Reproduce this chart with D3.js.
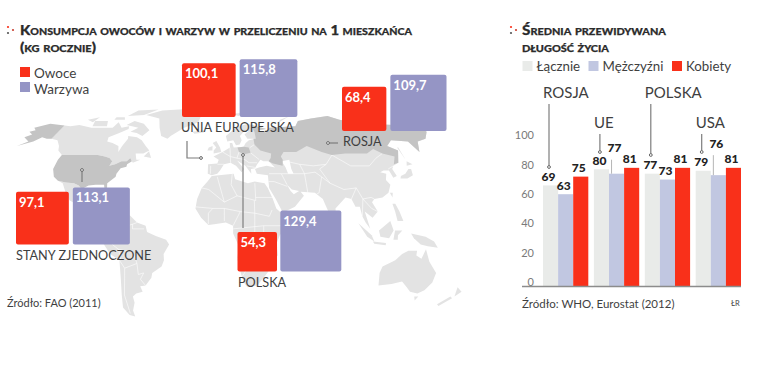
<!DOCTYPE html>
<html>
<head>
<meta charset="utf-8">
<script src="https://cdn.jsdelivr.net/npm/d3@7"></script>
<style>
  body { margin: 0; background: #fff; }
  text { font-family: Lato, sans-serif; }
  .title { font-weight: 900; font-variant: small-caps; font-size: 14px; fill: #2b2b2b; stroke: #2b2b2b; stroke-width: 0.25px; }
  .thin { fill: #3f3f3f; }
</style>
</head>
<body>
<div id="chart-area"></div>
<script>
// DATA
// ****

const regions = ["UNIA EUROPEJSKA", "ROSJA", "STANY ZJEDNOCZONE", "POLSKA"]
const owoce = [100.1, 68.4, 97.1, 54.3]
const warzywa = [115.8, 109.7, 113.1, 129.4]

const countries = ["ROSJA", "UE", "POLSKA", "USA"]
const lacznie = [69, 80, 77, 79]
const mezczyzni = [63, 77, 73, 76]
const kobiety = [75, 81, 81, 81]
const lifeTicks = [0, 20, 40, 60, 80, 100]

// MAP OUTLINES (lon, lat)
// ***********************

const land = [
  // Canada
  [[-141,69.6],[-135,69],[-128,70],[-115,68],[-108,68],[-96,68],[-94,72],[-88,68],[-82,69],[-81,67],[-87,64],[-94,61],[-93,58],[-88,57],[-82,55],[-80,51],[-79,55],[-77,60],[-78,62],[-70,61],[-65,59],[-60,55],[-56,52],[-60,50],[-66,50],[-65,48],[-64,46],[-61,46],[-66,44],[-67,45],[-69,47],[-71,45],[-75,45],[-79,43],[-83,42],[-82,45],[-85,47],[-89,48],[-95,49],[-123,49],[-128,52],[-130,55],[-135,59],[-141,60]],
  // Mexico, Central America
  [[-117,32.5],[-111,31.5],[-105,31],[-101,29.5],[-97,26],[-98,21],[-95,18],[-91,18.5],[-90,21],[-87,21],[-88,16],[-83,15],[-83,10],[-80,9],[-77,8],[-80,7],[-85,10],[-92,14.5],[-96,16],[-105,20],[-109,25],[-113,31]],
  [[-85,22],[-80,23],[-74,20],[-78,20]],
  [[-74,19.5],[-69,19.5],[-69,18],[-74,18]],
  // Greenland, arctic islands
  [[-73,78],[-60,82],[-35,83.5],[-18,80],[-20,72],[-32,68],[-42,62],[-44,60],[-50,62],[-54,68],[-58,75]],
  [[-80,73],[-70,71],[-62,66],[-66,62],[-72,64],[-78,65],[-73,68],[-85,70]],
  [[-117,73],[-105,73],[-102,69],[-115,69]],
  [[-125,74],[-116,76],[-118,72]],
  [[-90,77],[-85,82],[-65,83],[-75,78]],
  [[-100,76],[-92,76],[-90,74],[-100,74]],
  [[-59,48],[-56,51.5],[-53,47]],
  // South America
  [[-77,8],[-72,12],[-68,11],[-62,10.5],[-57,6],[-51,4],[-50,0],[-44,-2.5],[-37,-5],[-35,-8],[-39,-14],[-39,-18],[-41,-22],[-48,-26],[-49,-29],[-54,-34],[-58,-34.5],[-57,-38],[-62,-39],[-65,-41],[-65,-45],[-68,-50],[-68,-54],[-72,-53],[-75,-48],[-73,-40],[-71,-30],[-70,-18],[-76,-14],[-81,-6],[-80,-2],[-78,2],[-77,7]],
  // Africa
  [[-6,35.5],[10,37],[11,33.5],[20,31],[25,32],[32,31],[34,28],[37,21],[39,15],[43,11.5],[51,12],[48,5],[41,-2],[39,-7],[40,-15],[35,-20],[35,-24],[32,-28],[27,-34],[20,-35],[18,-33],[15,-27],[12,-17],[13,-9],[9,-1],[9,4],[4,6],[-4,5],[-8,4.5],[-13,9],[-17,15],[-16,21],[-13,28],[-9,32]],
  [[49,-12],[50,-16],[47,-25],[44,-24],[44,-17]],
  // Eurasia
  [[-9,37],[-9,43],[-2,43.5],[-1,46],[-5,48],[2,51],[8,54],[8,57],[10,57],[11,54],[19,54.5],[21,57],[24,59],[30,60],[23,60],[21,63],[25,65.5],[22,66],[17,62],[18,59],[16,56],[13,55.5],[11,59],[6,58],[5,62],[14,68],[25,71],[41,67],[33,66],[40,64.5],[44,68],[68,69],[73,73],[87,75],[105,77],[113,74],[130,71],[160,70],[180,69],[180,65],[172,60],[163,58],[157,51],[155,58],[142,59],[135,55],[141,52],[135,44],[130,42],[128,40],[129,35.5],[126,34.5],[125,39],[121,39],[118,38],[122,37],[120,33],[122,30],[119,25],[114,22],[108,21],[106,19],[109,13],[105,9],[100,13],[103,2],[100,6],[98,10],[97,16],[94,16],[92,21],[88,22],[80,15],[80,10],[77,8],[73,18],[72,21],[67,25],[57,25.5],[59,23],[52,16],[45,13],[43,13],[39,21],[35,28],[35,36],[27,37],[26,40],[29,41],[35,42],[41,41],[37,45],[33,45],[31,46],[28,43],[26,40.5],[23,40],[23,37],[19,42],[13,45.5],[18,40],[16,38],[12,42],[8,44],[3,43],[0,39],[-2,37],[-6,36]],
  // Islands
  [[-5,50],[1,51],[0,54],[-3,58.5],[-6,57],[-3,54],[-5,52]],
  [[-10,52],[-6,52],[-6,55],[-9,54]],
  [[-24,65],[-14,66],[-14,64.5],[-22,63.5]],
  [[52,71],[68,77],[57,74]],
  [[12,79],[25,80],[18,77]],
  [[80,9.5],[82,7],[80,6]],
  [[131,34],[136,34],[141,36],[142,40],[140,40],[136,37],[132,35.5]],
  [[140,42],[142,45],[145,43]],
  [[142,46],[143,54],[142,54]],
  [[120,25],[122,25],[121,22]],
  [[120,18],[122,18],[124,13],[126,7],[122,7],[121,13]],
  [[109,1],[117,7],[119,1],[116,-4],[110,-3]],
  [[95,5.5],[104,-2],[106,-6],[101,-3]],
  [[105,-6],[114,-7],[114,-8.5],[106,-7.5]],
  [[120,1],[125,1],[122,-2],[122,-5],[119,-5]],
  [[131,-1],[141,-3],[147,-6],[150,-10],[143,-9],[138,-8],[133,-4]],
  [[114,-22],[122,-18],[126,-14],[130,-12],[136,-12],[136,-15],[140,-17],[142,-11],[146,-19],[153,-26],[153,-32],[150,-37],[146,-39],[140,-38],[136,-35],[131,-31.5],[124,-33],[115,-34],[113,-26]],
  [[145,-41],[148,-41],[147,-43.5]],
  [[173,-35],[178,-38],[175,-41]],
  [[172,-41],[174,-42],[168,-47],[166,-46]]
]

const highlighted = [
  // Alaska
  [[-141,69.6],[-156,71],[-166,68],[-162,66],[-166,65],[-161,63],[-165,61],[-158,58],[-164,55],[-154,58],[-150,61],[-145,60],[-141,60]],
  // USA
  [[-123,49],[-95,49],[-89,48],[-85,47],[-82,45],[-83,42],[-79,43],[-75,45],[-71,45],[-69,47],[-67,45],[-70,43],[-70,41.5],[-74,40.5],[-76,37],[-76,35],[-81,31],[-80,25.5],[-82,27],[-83,30],[-89,30],[-94,29.5],[-97,28],[-97,26],[-101,29.5],[-105,31],[-111,31.5],[-117,32.5],[-121,35],[-124,40],[-124,46]],
  // Russia
  [[28,70],[41,67],[33,66],[40,64.5],[44,68],[68,69],[73,73],[87,75],[105,77],[113,74],[130,71],[160,70],[180,69],[180,65],[172,60],[163,58],[157,51],[155,58],[142,59],[135,55],[141,52],[135,44],[131,43],[135,48],[127,50],[122,53],[115,50],[105,50],[98,50],[87,49],[80,51],[70,55],[60,51],[50,51],[47,48],[48,46],[47,42],[40,43.5],[37,45],[39,47],[40,50],[32,52],[28,56],[28,60],[30,60],[30,65]],
  // Poland
  [[14,54],[19,54.5],[23,54],[24,50.5],[19,49.5],[15,51]]
]

const seas = [
  [[47,45],[53,46],[53,40],[54,37],[50,37],[49,41]],
  [[48,30],[51,27],[56,26],[52,24],[50,26]]
]

const borders = [
  // Africa
  [[-13,28],[-8,27],[3,19],[12,23],[25,20],[25,31]],[[25,22],[37,22]],[[-17,16],[-5,15],[3,15],[14,13],[24,12],[24,20]],
  [[14,13],[9,4]],[[24,12],[34,10],[36,14]],[[9,2],[30,4],[42,4]],[[12,-5],[30,-8],[40,-11]],[[12,-17],[24,-18],[35,-17]],
  [[16,-28],[20,-22],[32,-22]],[[30,4],[30,-8]],[[24,12],[24,-11]],[[9,37],[8,30],[12,23]],[[3,19],[-2,35]],[[-8,5],[-8,12],[-5,15]],[[3,7],[3,15]],
  // Asia
  [[36,37],[45,37],[48,30]],[[45,37],[62,37],[62,25]],[[35,32],[39,32],[48,29]],[[62,37],[70,38],[74,35],[70,25],[68,24]],
  [[74,35],[79,31],[88,27],[97,28],[92,21]],[[97,28],[100,21],[106,22],[108,21]],[[100,21],[98,10]],[[100,21],[105,15],[109,13]],
  [[79,31],[74,40],[80,43],[87,49]],[[87,49],[98,42],[112,42],[120,47],[127,50]],[[50,45],[60,43],[70,42],[80,43]],[[60,43],[62,37]],[[125,40],[130,42]],
  // Europe
  [[-2,43],[3,43]],[[2,51],[8,48],[8,44]],[[8,54],[8,48],[13,47]],[[15,51],[13,47]],[[13,47],[19,46],[22,44],[28,44]],[[24,50.5],[30,46]],[[28,56],[24,54]],[[20,42],[26,41]],[[-7,42],[-7,37]],
  // South America
  [[-72,12],[-70,2],[-70,-4],[-74,-8],[-70,-11],[-60,-13],[-58,-20],[-58,-27],[-54,-26],[-57,-30],[-54,-34]],[[-70,2],[-60,5],[-57,6]],[[-60,5],[-60,2],[-52,2]],
  [[-78,-1],[-70,-4]],[[-70,-18],[-67,-23],[-71,-40],[-71,-52]],[[-70,-11],[-69,-18]],[[-67,-23],[-58,-20]]
]

// COLOURS
// *******

const red = "#f9301a"
const purple = "#9595c5"
const landLight = "#e3e3e3"
const landDark = "#c4c4c4"
const leader = "#7d7d7d"

// SVG
// ***

const svg = d3.select("#chart-area")
  .append("svg")
    .attr("width", 763)
    .attr("height", 377)
    .style("display", "block")

function title(x, lines, lens) {
  lines.forEach((t, i) => {
    svg.append("text")
      .attr("class", "title")
      .attr("x", x)
      .attr("y", 34.5 + i * 17)
      .attr("textLength", lens[i])
      .attr("lengthAdjust", "spacingAndGlyphs")
      .text(t)
  })
}

function ornament(x) {
  [[0, 0, red], [5, 3, "#c9402f"], [0, 6, "#555"]].forEach(d => {
    svg.append("circle")
      .attr("cx", x + d[0]).attr("cy", 27 + d[1]).attr("r", 1.1).attr("fill", d[2])
  })
}

function label(x, y, txt, size, anchor) {
  return svg.append("text")
    .attr("class", "thin")
    .attr("x", x)
    .attr("y", y)
    .attr("font-size", size + "px")
    .attr("text-anchor", anchor || "start")
    .text(txt)
}

function pin(path, end) {
  svg.append("path").attr("d", d3.line()(path)).attr("fill", "none").attr("stroke", leader).attr("stroke-width", 1.2)
  svg.append("circle")
    .attr("cx", end[0]).attr("cy", end[1]).attr("r", 1.4)
    .attr("fill", "#fff").attr("stroke", "#666").attr("stroke-width", 1)
}

// MAP
// ***

const projection = d3.geoNaturalEarth1().scale(96).translate([0, 0])
const outline = d3.line()
  .x(d => projection(d)[0])
  .y(d => projection(d)[1])
  .curve(d3.curveLinearClosed)
const open = d3.line()
  .x(d => projection(d)[0])
  .y(d => projection(d)[1])

const map = svg.append("g").attr("transform", "translate(220, 232) scale(1, 0.93)")

map.selectAll(".land").data(land).enter().append("path")
  .attr("d", outline).attr("fill", landLight)
map.selectAll(".border").data(borders).enter().append("path")
  .attr("d", open).attr("fill", "none").attr("stroke", "#fff").attr("stroke-width", 0.6)
map.selectAll(".sea").data(seas).enter().append("path")
  .attr("d", outline).attr("fill", "#fff")
map.selectAll(".high").data(highlighted).enter().append("path")
  .attr("d", outline).attr("fill", landDark)

// LEFT PANEL
// **********

ornament(8)
title(20, ["Konsumpcja owoców i warzyw w przeliczeniu na 1 mieszkańca", "(kg rocznie)"], [392, 76])

svg.append("rect").attr("x", 20).attr("y", 67).attr("width", 10).attr("height", 10).attr("fill", red)
svg.append("rect").attr("x", 20).attr("y", 82).attr("width", 10).attr("height", 10).attr("fill", purple)
label(34, 77.5, "Owoce", 13.5)
label(34, 94, "Warzywa", 13.5)

pin([[187, 141], [187, 158], [201, 158]], [201, 158])
pin([[243, 155], [243, 228]], [243, 155])
pin([[82, 170], [82, 182]], [82, 170])
pin([[328, 143], [338, 143]], [328, 143])

// side of a square follows the square root of the value
const side = d3.scaleSqrt().domain([0, 129.4]).range([0, 61])
const anchors = [
  {x: 182, bottom: 117, gap: 4, lx: 181, ly: 132},
  {x: 342, bottom: 131, gap: 4, lx: 343, ly: 146},
  {x: 16, bottom: 244.5, gap: 4, lx: 16, ly: 260},
  {x: 237.5, bottom: 271.5, gap: 3.3, lx: 238, ly: 287}
]

function square(x, bottom, v, colour, dy) {
  const s = side(v)
  svg.append("rect")
    .attr("x", x).attr("y", bottom - s)
    .attr("width", s).attr("height", s)
    .attr("rx", 2).attr("fill", colour)
  svg.append("text")
    .attr("x", x + 3).attr("y", bottom - s + dy)
    .attr("font-size", "13px").attr("font-weight", 700).attr("fill", "#fff")
    .text(String(v).replace(".", ","))
}

regions.forEach((r, i) => {
  const a = anchors[i]
  square(a.x, a.bottom, owoce[i], red, 15)
  square(a.x + side(owoce[i]) + a.gap, a.bottom, warzywa[i], purple, 15)
  label(a.lx, a.ly, r, 12.7)
})

label(7, 307, "Źródło: FAO (2011)", 11)

// RIGHT PANEL
// ***********

ornament(511)
title(522, ["Średnia przewidywana", "długość życia"], [144, 87])

const legend = [
  {x: 522.5, c: "#e9ebe9", t: "Łącznie"},
  {x: 588.5, c: "#c1c7e1", t: "Mężczyźni"},
  {x: 672, c: red, t: "Kobiety"}
]
legend.forEach(d => {
  svg.append("rect").attr("x", d.x).attr("y", 61).attr("width", 10).attr("height", 10).attr("fill", d.c)
  label(d.x + 14, 71, d.t, 13.3)
})

const base = 286.5
const y = d3.scaleLinear().domain([0, 100]).range([base, base - 146.5])
const x0 = d3.scaleBand().domain(countries).range([543, 741]).paddingInner(0.11)
const series = [lacznie, mezczyzni, kobiety]
const seriesColours = ["#e9ebe9", "#c1c7e1", red]
const x1 = d3.scaleBand().domain([0, 1, 2]).range([0, x0.bandwidth()])

const leftAxis = d3.axisLeft(y).tickValues(lifeTicks).tickSize(0).tickPadding(0)
const axisG = svg.append("g")
  .attr("class", "left axis")
  .attr("transform", "translate(534, 0)")
  .call(leftAxis)
axisG.select(".domain").remove()
axisG.selectAll("text")
  .attr("dy", "-0.1em")
  .attr("font-size", "11px")
  .attr("fill", "#7a7a7a")
  .style("font-family", "Lato, sans-serif")

series.forEach((vals, s) => {
  svg.selectAll(".bar" + s).data(vals).enter().append("rect")
    .attr("x", (d, i) => x0(countries[i]) + x1(s))
    .attr("y", d => y(d))
    .attr("width", x1.bandwidth())
    .attr("height", d => base - y(d))
    .attr("fill", seriesColours[s])
})

svg.append("line")
  .attr("x1", 522).attr("x2", x0.range()[1])
  .attr("y1", base).attr("y2", base)
  .attr("stroke", "#8c8c8c").attr("stroke-width", 1.6)

// labels that the original lifts above the default position, [series][group]
const lift = [[0, 0, 0, 0], [0, 17, 0, 23], [0, 0, 0, 0]]
series.forEach((vals, s) => {
  vals.forEach((v, i) => {
    const cx = x0(countries[i]) + x1(s) + x1.bandwidth() / 2
    const raised = lift[s][i]
    if (raised) {
      svg.append("line")
        .attr("x1", cx - 5).attr("x2", cx - 5)
        .attr("y1", y(v) - raised + 3).attr("y2", y(v))
        .attr("stroke", "#b5b5b5").attr("stroke-width", 1)
    }
    svg.append("text")
      .attr("x", cx - 2)
      .attr("y", y(v) - 4.5 - raised)
      .attr("text-anchor", "middle")
      .attr("font-size", "12px")
      .attr("font-weight", 900)
      .attr("fill", "#222")
      .text(v)
  })
})

// country names and leaders
const levels = [98, 128, 98, 128]
const pinEnds = [167, 152, 155, 152]
countries.forEach((c, i) => {
  const lx = x0(c)
  label(lx, levels[i], c, 15)
  pin([[lx + 6, levels[i] + 6], [lx + 6, pinEnds[i]]], [lx + 6, pinEnds[i]])
})

label(522, 307.5, "Źródło: WHO, Eurostat (2012)", 11.5)
label(731, 306, "ŁR", 7.5)
</script>
</body>
</html>
